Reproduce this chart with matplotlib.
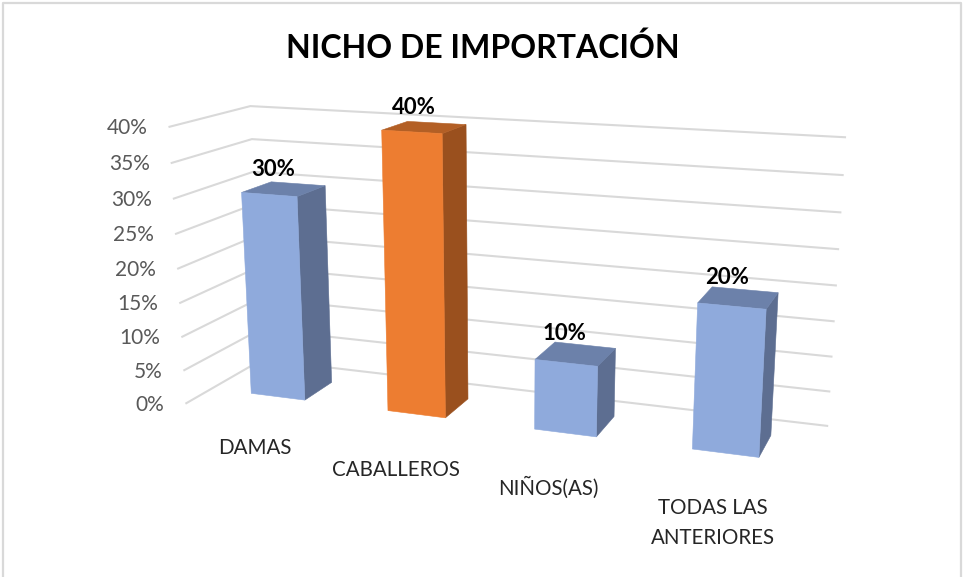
import numpy as np
import matplotlib
matplotlib.use("Agg")
import matplotlib.pyplot as plt
from matplotlib.patches import Polygon

title = "NICHO DE IMPORTACIÓN"
categories = ["DAMAS", "CABALLEROS", "NIÑOS(AS)", "TODAS LAS\nANTERIORES"]
values = [30, 40, 10, 20]
ticks = [0, 5, 10, 15, 20, 25, 30, 35, 40]

# front, side, top of each bar
blue = ("#8faadc", "#5d6e91", "#6c81aa")
orange = ("#ed7d31", "#9a501e", "#b35f25")
bar_colors = [blue, orange, blue, blue]

# camera fitted on the reference: (category, depth, percent) -> pixel
CAMERA = np.array([
    [125.98754792537707, 100.424651636348, -0.6327451046773365, 186.31623244691136],
    [3.380122298282158, -9.623208438889396, -7.069530637723942, 403.19452141683723],
    [-0.03461622054123459, 0.09436505988965088, -0.001253133588545171, 1.0],
])
BAR_W = 0.4
Y0, Y1 = 0.32, 0.71
GRID = "#d9d9d9"


def project(x, y, z):
    q = CAMERA @ np.array([x, y, z, 1.0])
    return q[0] / q[2], q[1] / q[2]


plt.rcParams["font.family"] = ["Lato", "DejaVu Sans"]
fig = plt.figure(figsize=(9.63, 5.77), dpi=100)
ax = fig.add_axes([0, 0, 1, 1])
ax.set_xlim(0, 963)
ax.set_ylim(577, 0)
ax.axis("off")

# chart frame, bottom edge is cut off in the reference
ax.plot([3, 3, 961, 961], [577, 3, 3, 577], color=GRID, lw=1.6, zorder=1)

ax.text(483, 48, title, fontsize=23, fontweight="bold", color="black",
        ha="center", va="center")

for t in ticks:
    left = project(0, 0, t)
    corner = project(0, 1, t)
    right = project(4, 1, t)
    ax.plot([left[0], corner[0], right[0]], [left[1], corner[1], right[1]],
            color=GRID, lw=1.5, zorder=2, solid_joinstyle="miter")
    ax.text(left[0] - 22, left[1] + 1.5, f"{t}%", fontsize=15, color="#595959",
            ha="right", va="center")

label_pos = [(255, 448), (396, 470), (548, 488), (713, 523)]

for i, v in enumerate(values):
    xl = i + 0.5 - BAR_W / 2
    xr = i + 0.5 + BAR_W / 2
    front = [project(xl, Y0, 0), project(xr, Y0, 0), project(xr, Y0, v), project(xl, Y0, v)]
    side = [project(xr, Y0, 0), project(xr, Y1, 0), project(xr, Y1, v), project(xr, Y0, v)]
    top = [project(xl, Y0, v), project(xr, Y0, v), project(xr, Y1, v), project(xl, Y1, v)]
    c_front, c_side, c_top = bar_colors[i]
    ax.add_patch(Polygon(side, closed=True, fc=c_side, ec=c_side, lw=0.4, zorder=3))
    ax.add_patch(Polygon(top, closed=True, fc=c_top, ec=c_top, lw=0.4, zorder=3))
    ax.add_patch(Polygon(front, closed=True, fc=c_front, ec=c_front, lw=0.4, zorder=4))

    cx, cy = project(i + 0.5, (Y0 + Y1) / 2, v)
    ax.text(cx - 11, cy - 20, f"{v}%", fontsize=16, fontweight="bold", color="black",
            ha="center", va="center", zorder=5)
    ax.text(label_pos[i][0], label_pos[i][1], categories[i], fontsize=14.8, color="#262626",
            ha="center", va="center", linespacing=1.6, zorder=5)

fig.savefig("out.png", dpi=100)
